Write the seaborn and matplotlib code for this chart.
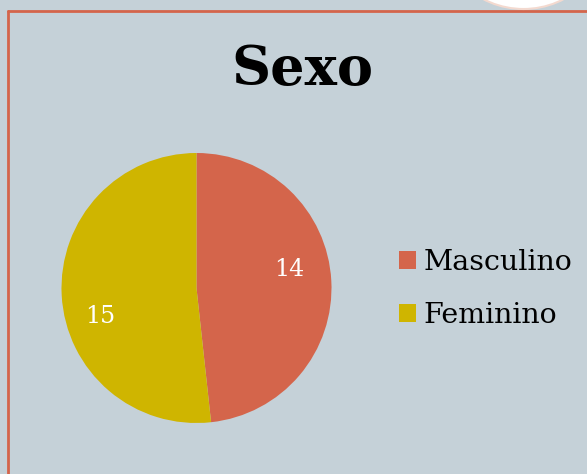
import matplotlib
matplotlib.use('Agg')
import matplotlib.pyplot as plt
from matplotlib.patches import Circle, Rectangle
import seaborn as sns

categories = ['Masculino', 'Feminino']
counts = [14, 15]
colors = ['#d4654b', '#cfb500']

sns.set_theme(style='white')
plt.rcParams['font.family'] = ['DejaVu Serif']
plt.rcParams['text.color'] = 'black'

bg = '#c5d1d8'
fig = plt.figure(figsize=(5.87, 4.74), dpi=100)
fig.patch.set_facecolor(bg)

# pie axes: centre ~ (196, 288) px, radius ~135 px
W, H = 587, 474
cx, cy, r = 196.5, 288, 135
ax = fig.add_axes([(cx - r) / W, 1 - (cy + r) / H, 2 * r / W, 2 * r / H])
ax.set_facecolor('none')
sns.set_palette(colors)
wedges, _ = ax.pie(counts, colors=colors, startangle=90, counterclock=False,
                   radius=1, wedgeprops=dict(linewidth=0))
ax.set_xlim(-1, 1)
ax.set_ylim(-1, 1)

# value labels
label_pos = [(0.69, 0.14), (-0.71, -0.21)]
for (lx, ly), v in zip(label_pos, counts):
    ax.text(lx, ly, str(v), color='white', fontsize=17, ha='center', va='center')

# title
fig.text(302 / W, 1 - 85 / H, 'Sexo', fontsize=39, fontweight='bold',
         ha='center', va='baseline', color='black')

# legend
handles = [Rectangle((0, 0), 1, 1, facecolor=c, edgecolor='none') for c in colors]
leg = fig.legend(handles, categories, loc='center left',
                 bbox_to_anchor=(399 / W, 1 - 289 / H), frameon=False,
                 fontsize=20.5, handlelength=0.58, handleheight=0.58,
                 handletextpad=0.28, labelspacing=0.9, borderpad=0,
                 borderaxespad=0)
for t in leg.get_texts():
    t.set_color('black')

# slide border and decoration
fig.add_artist(plt.Line2D([7.5 / W, 7.5 / W], [0, 1 - 10.5 / H],
                          color='#d4654b', lw=2, transform=fig.transFigure))
fig.add_artist(plt.Line2D([7.5 / W, 1], [1 - 10.5 / H, 1 - 10.5 / H],
                          color='#d4654b', lw=2, transform=fig.transFigure))
circ = Circle((523.5, H + 78), 87, transform=None, facecolor='white',
              edgecolor='#f3d9cf', lw=1.5, zorder=5)
fig.patches.append(circ)

fig.savefig('out.png', dpi=100, facecolor=bg)
